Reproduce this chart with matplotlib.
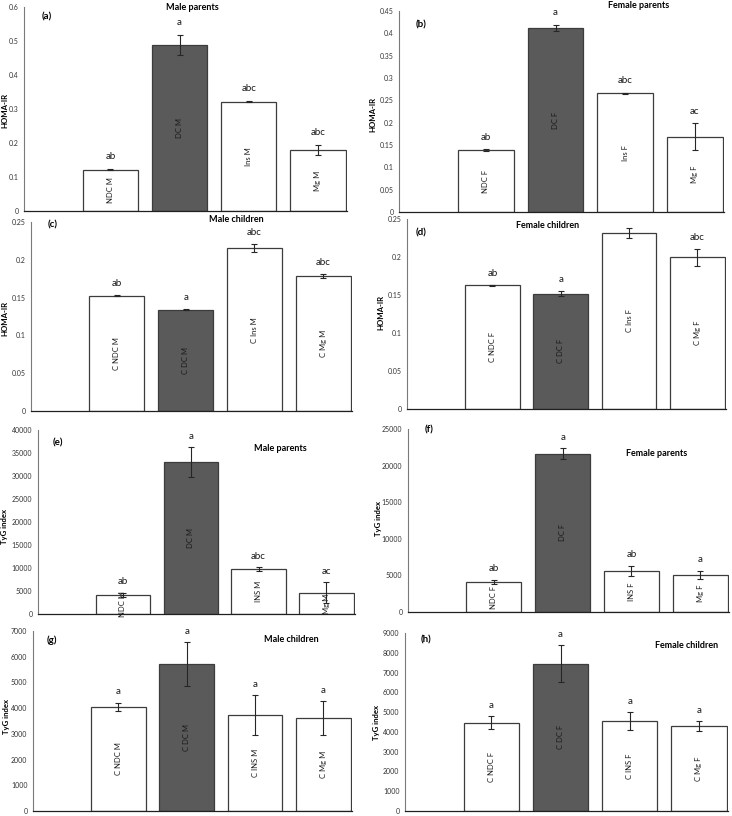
import numpy as np
import matplotlib
matplotlib.use("Agg")
import matplotlib.pyplot as plt
from matplotlib.ticker import FormatStrFormatter, MultipleLocator

plt.rcParams['font.family'] = ['Lato', 'DejaVu Sans']

W, H = 732, 816

# ---- data ----
# HOMA-IR
a_names = ['NDC M', 'DC M', 'Ins M', 'Mg M']
a_vals = [0.122, 0.488, 0.322, 0.180]
a_err = [0.002, 0.030, 0.002, 0.014]
a_let = ['ab', 'a', 'abc', 'abc']

b_names = ['NDC F', 'DC F', 'Ins F', 'Mg F']
b_vals = [0.138, 0.412, 0.266, 0.169]
b_err = [0.002, 0.007, 0.001, 0.030]
b_let = ['ab', 'a', 'abc', 'ac']

c_names = ['C NDC M', 'C DC M', 'C Ins M', 'C Mg M']
c_vals = [0.1527, 0.1342, 0.2152, 0.1787]
c_err = [0.0008, 0.0012, 0.0053, 0.0024]
c_let = ['ab', 'a', 'abc', 'abc']

d_names = ['C NDC F', 'C DC F', 'C Ins F', 'C Mg F']
d_vals = [0.1627, 0.1518, 0.2316, 0.1996]
d_err = [0.0008, 0.0035, 0.0064, 0.0114]
d_let = ['ab', 'a', '', 'abc']

# TyG index
e_names = ['NDC M', 'DC M', 'INS M', 'Mg M']
e_vals = [4200, 33000, 9700, 4600]
e_err = [400, 3200, 450, 2300]
e_let = ['ab', 'a', 'abc', 'ac']

f_names = ['NDC F', 'DC F', 'INS F', 'Mg F']
f_vals = [4100, 21650, 5600, 5050]
f_err = [320, 700, 750, 590]
f_let = ['ab', 'a', 'ab', 'a']

g_names = ['C NDC M', 'C DC M', 'C INS M', 'C Mg M']
g_vals = [4057, 5720, 3737, 3609]
g_err = [160, 860, 780, 670]
g_let = ['a', 'a', 'a', 'a']

h_names = ['C NDC F', 'C DC F', 'C INS F', 'C Mg F']
h_vals = [4459, 7454, 4542, 4276]
h_err = [320, 940, 460, 250]
h_let = ['a', 'a', 'a', 'a']

panels = [
    ('(a)', 'Male parents', 'HOMA-IR', a_names, a_vals, a_err, a_let, 0.6, 0.1),
    ('(b)', 'Female parents', 'HOMA-IR', b_names, b_vals, b_err, b_let, 0.45, 0.05),
    ('(c)', 'Male children', 'HOMA-IR', c_names, c_vals, c_err, c_let, 0.25, 0.05),
    ('(d)', 'Female children', 'HOMA-IR', d_names, d_vals, d_err, d_let, 0.25, 0.05),
    ('(e)', 'Male parents', 'TyG index', e_names, e_vals, e_err, e_let, 40000, 5000),
    ('(f)', 'Female parents', 'TyG index', f_names, f_vals, f_err, f_let, 25000, 5000),
    ('(g)', 'Male children', 'TyG index', g_names, g_vals, g_err, g_let, 7000, 1000),
    ('(h)', 'Female children', 'TyG index', h_names, h_vals, h_err, h_let, 9000, 1000),
]

# layout in pixels: axes left, right, top, zero-line; title xy; tag xy; ylabel xy
layout = [
    ((24, 347, 7, 211), (192, 7), (47, 17), (5, 110)),
    ((399, 724, 11, 212), (639, 5), (421, 25), (373, 114)),
    ((31, 352, 222, 411), (236, 220), (53, 225), (5, 318)),
    ((407, 726, 219, 409), (548, 225), (421, 233), (381, 312)),
    ((38, 355, 430, 614), (280, 448), (58, 443), (5, 526)),
    ((408, 729, 429, 612), (657, 453), (429, 430), (379, 518)),
    ((33, 352, 631, 811), (291, 640), (52, 640), (6, 716)),
    ((405, 728, 633, 811), (687, 645), (426, 640), (377, 722)),
]


def fx(x):
    return x / W


def fy(y):
    return 1 - y / H


fig = plt.figure(figsize=(W / 100, H / 100), dpi=100)
fig.patch.set_facecolor('white')

x = np.arange(1, 5)
dark = '#5a5a5a'
edge = '#3c3c3c'

for (tag, title, ylab, names, vals, err, lets, ymax, step), (box, tpos, gpos, lpos) in zip(panels, layout):
    l, r, t, z = box
    ax = fig.add_axes([fx(l), fy(z), (r - l) / W, (z - t) / H])
    colors = ['white', dark, 'white', 'white']
    ax.bar(x, vals, width=0.8, color=colors, edgecolor=edge, linewidth=0.9, zorder=2)
    ax.errorbar(x, vals, yerr=err, fmt='none', ecolor='#262626', elinewidth=0.8,
                capsize=2.2, capthick=0.8, zorder=3)
    for xi, v, e, name, let in zip(x, vals, err, names, lets):
        ax.text(xi, v / 2, name, rotation=90, ha='center', va='center',
                fontsize=5.5, color='#1a1a1a', zorder=4)
        if let:
            ax.text(xi, v + e + 0.06 * ymax, let, ha='center', va='center',
                    fontsize=7, color='#1a1a1a', clip_on=False)
    ax.set_xlim(-0.25, 4.42)
    ax.set_ylim(0, ymax)
    ax.yaxis.set_major_locator(MultipleLocator(step))
    ax.yaxis.set_major_formatter(FormatStrFormatter('%g'))
    ax.set_xticks([])
    ax.tick_params(axis='y', length=0, pad=4, labelsize=5, labelcolor='#333333')
    for s in ['top', 'right']:
        ax.spines[s].set_visible(False)
    ax.spines['left'].set_color('#7a7a7a')
    ax.spines['left'].set_linewidth(0.8)
    ax.spines['bottom'].set_color('#202020')
    ax.spines['bottom'].set_linewidth(0.9)

    fig.text(fx(tpos[0]), fy(tpos[1]), title, ha='center', va='center',
             fontsize=6.5, fontweight='bold')
    fig.text(fx(gpos[0]), fy(gpos[1]), tag, ha='center', va='center',
             fontsize=7, fontweight='bold')
    fig.text(fx(lpos[0]), fy(lpos[1]), ylab, ha='center', va='center',
             rotation=90, fontsize=5.6, fontweight='bold')

fig.savefig('out.png', dpi=100)
